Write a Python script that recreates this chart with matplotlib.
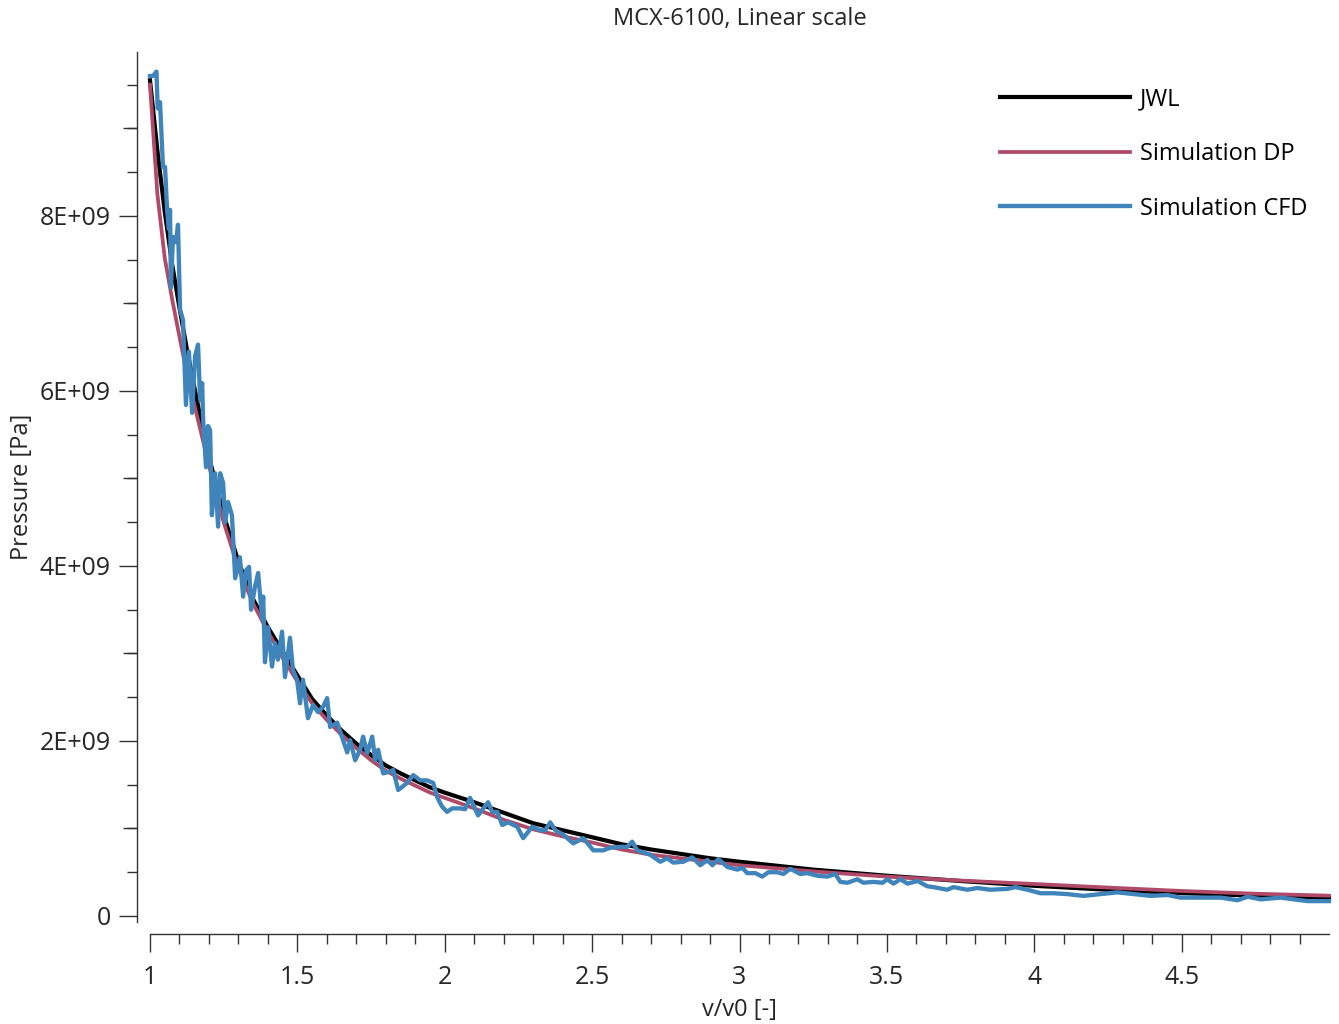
import numpy as np
import matplotlib.pyplot as plt
from matplotlib.ticker import FixedLocator, FuncFormatter

plt.rcParams['font.family'] = ['Open Sans', 'DejaVu Sans']

# JWL reference curve (v/v0, pressure in 1e9 Pa)
jwl_x = [1.00, 1.025, 1.05, 1.075, 1.10, 1.125, 1.15, 1.175, 1.20, 1.25, 1.30, 1.35,
         1.40, 1.45, 1.50, 1.55, 1.60, 1.65, 1.70, 1.75, 1.80, 1.85, 1.90, 1.95, 2.00,
         2.10, 2.20, 2.30, 2.40, 2.50, 2.60, 2.70, 2.80, 2.90, 3.00, 3.25, 3.50, 3.75,
         4.00, 4.25, 4.50, 4.75, 5.00]
jwl_p = [9.55, 8.75, 8.05, 7.45, 6.95, 6.48, 6.05, 5.63, 5.25, 4.58, 4.05, 3.62,
         3.30, 3.02, 2.75, 2.48, 2.29, 2.12, 1.97, 1.84, 1.72, 1.63, 1.55, 1.47, 1.41,
         1.30, 1.18, 1.06, 0.98, 0.90, 0.82, 0.76, 0.71, 0.66, 0.62, 0.53, 0.46, 0.40,
         0.345, 0.30, 0.262, 0.232, 0.206]

# Simulation DP
dp_x = jwl_x
dp_p = [9.50, 8.25, 7.52, 7.05, 6.62, 6.20, 5.85, 5.50, 5.15, 4.50, 3.97, 3.57,
        3.25, 2.95, 2.68, 2.43, 2.24, 2.07, 1.92, 1.78, 1.66, 1.57, 1.49, 1.41, 1.35,
        1.23, 1.10, 0.99, 0.91, 0.84, 0.76, 0.70, 0.66, 0.62, 0.58, 0.51, 0.45, 0.405,
        0.366, 0.325, 0.286, 0.255, 0.232]

# Simulation CFD (noisy)
cfd_x = [1.000, 1.010, 1.022, 1.026, 1.034, 1.044, 1.051, 1.058, 1.064, 1.068, 1.071,
         1.078, 1.088, 1.095, 1.102, 1.112, 1.122, 1.132, 1.143, 1.153, 1.163, 1.170,
         1.177, 1.180, 1.190, 1.197, 1.204, 1.210, 1.221, 1.231, 1.238, 1.248, 1.255,
         1.265, 1.278, 1.289, 1.305, 1.316, 1.326, 1.336, 1.343, 1.356, 1.367, 1.380,
         1.384, 1.390, 1.401, 1.414, 1.424, 1.434, 1.448, 1.458, 1.475, 1.485, 1.499,
         1.509, 1.519, 1.536, 1.553, 1.570, 1.587, 1.601, 1.611, 1.635, 1.669, 1.679,
         1.696, 1.713, 1.723, 1.737, 1.754, 1.764, 1.774, 1.791, 1.815, 1.825, 1.842,
         1.872, 1.893, 1.917, 1.940, 1.961, 1.974, 1.991, 2.008, 2.025, 2.052, 2.069,
         2.086, 2.113, 2.147, 2.161, 2.178, 2.195, 2.215, 2.246, 2.266, 2.297, 2.324,
         2.341, 2.358, 2.375, 2.402, 2.436, 2.470, 2.504, 2.538, 2.561, 2.595, 2.619,
         2.636, 2.653, 2.697, 2.731, 2.755, 2.775, 2.809, 2.840, 2.867, 2.891, 2.908,
         2.928, 2.959, 2.993, 3.010, 3.026, 3.054, 3.077, 3.098, 3.128, 3.149, 3.172,
         3.206, 3.230, 3.264, 3.298, 3.325, 3.342, 3.366, 3.400, 3.420, 3.454, 3.485,
         3.502, 3.522, 3.546, 3.570, 3.604, 3.637, 3.658, 3.705, 3.726, 3.773, 3.807,
         3.851, 3.909, 3.936, 3.977, 4.021, 4.065, 4.113, 4.167, 4.225, 4.282, 4.337,
         4.395, 4.452, 4.496, 4.564, 4.632, 4.690, 4.724, 4.768, 4.836, 4.880, 4.927,
         5.000]
cfd_p = [9.60, 9.60, 9.65, 9.23, 9.30, 8.56, 8.56, 8.07, 7.85, 8.07, 7.18,
         7.76, 7.70, 7.90, 6.93, 6.81, 5.84, 6.45, 5.75, 6.40, 6.53, 5.90,
         6.09, 5.69, 5.13, 5.60, 5.55, 4.58, 5.06, 4.45, 5.06, 4.95, 4.50,
         4.73, 4.58, 3.86, 4.10, 3.65, 3.95, 3.99, 3.50, 3.76, 3.92, 3.41,
         3.65, 2.90, 3.30, 2.85, 3.12, 2.93, 3.25, 2.73, 3.18, 2.81, 2.70,
         2.43, 2.70, 2.26, 2.41, 2.33, 2.39, 2.49, 2.16, 2.21, 1.87, 2.01,
         1.78, 1.90, 2.05, 1.86, 2.05, 1.78, 1.90, 1.63, 1.65, 1.67, 1.44,
         1.52, 1.61, 1.55, 1.55, 1.52, 1.36, 1.25, 1.19, 1.23, 1.23, 1.22,
         1.35, 1.15, 1.30, 1.19, 1.19, 1.04, 1.07, 1.02, 0.89, 1.02, 0.98,
         0.98, 1.07, 0.98, 0.93, 0.83, 0.89, 0.75, 0.75, 0.78, 0.79, 0.79,
         0.85, 0.75, 0.70, 0.62, 0.66, 0.61, 0.62, 0.67, 0.58, 0.64, 0.58,
         0.65, 0.56, 0.53, 0.55, 0.49, 0.49, 0.45, 0.50, 0.50, 0.48, 0.54,
         0.48, 0.49, 0.46, 0.45, 0.48, 0.39, 0.38, 0.42, 0.38, 0.39, 0.38,
         0.42, 0.37, 0.42, 0.37, 0.40, 0.34, 0.33, 0.30, 0.33, 0.30, 0.32,
         0.30, 0.31, 0.33, 0.30, 0.26, 0.26, 0.25, 0.23, 0.25, 0.27, 0.25,
         0.23, 0.24, 0.21, 0.21, 0.21, 0.18, 0.22, 0.19, 0.21, 0.19, 0.17,
         0.17]

x_major = [1, 1.5, 2, 2.5, 3, 3.5, 4, 4.5]
y_major = [0, 2e9, 4e9, 6e9, 8e9]

scale = 1e9
ink = '#333333'
txt = '#262626'

fig = plt.figure(figsize=(13.39, 10.24), dpi=100)
ax = fig.add_axes([150 / 1339, 1 - 922 / 1024, 1179 / 1339, 870 / 1024])

ax.plot(jwl_x, np.array(jwl_p) * scale, color='black', lw=3.0, label='JWL', clip_on=False)
ax.plot(dp_x, np.array(dp_p) * scale, color='#B04A68', lw=2.7, label='Simulation DP', clip_on=False)
ax.plot(cfd_x, np.array(cfd_p) * scale, color='#3F85BB', lw=3.1, label='Simulation CFD', clip_on=False)

ax.set_xlim(1.0, 5.0)
ax.set_ylim(-0.0686e9, 9.874e9)

for s in ['top', 'right']:
    ax.spines[s].set_visible(False)
ax.spines['left'].set_position(('outward', 9.4))
ax.spines['bottom'].set_position(('outward', 8.6))
for s in ['left', 'bottom']:
    ax.spines[s].set_color(ink)
    ax.spines[s].set_linewidth(1.0)

ax.xaxis.set_major_locator(FixedLocator(x_major))
ax.xaxis.set_minor_locator(FixedLocator(np.arange(1.0, 4.95, 0.1)))
ax.xaxis.set_major_formatter(FuncFormatter(lambda v, p: f'{v:g}'))
ax.yaxis.set_major_locator(FixedLocator(y_major))
ax.yaxis.set_minor_locator(FixedLocator(np.arange(0, 9.9e9, 0.5e9)))
ax.yaxis.set_major_formatter(FuncFormatter(lambda v, p: '0' if v == 0 else f'{v:.0E}'))

ax.tick_params(which='major', direction='out', length=13, width=1.0, color=ink,
               labelsize=18, labelcolor=txt)
ax.tick_params(axis='x', which='major', pad=9)
ax.tick_params(axis='y', which='major', pad=6)
ax.tick_params(which='minor', direction='out', length=7.2, width=1.0, color=ink)

# medium ticks at odd 1e9 on the pressure axis
sec = ax.secondary_yaxis('left')
sec.spines['left'].set_position(('outward', 9.4))
sec.spines['left'].set_visible(False)
sec.yaxis.set_major_locator(FixedLocator([1e9, 3e9, 5e9, 7e9, 9e9]))
sec.yaxis.set_minor_locator(FixedLocator([]))
sec.tick_params(which='major', direction='out', length=10, width=1.0, color=ink, labelleft=False)

ax.set_xlabel('v/v0 [-]', fontsize=17, color=txt, labelpad=6)
ax.set_ylabel('Pressure [Pa]', fontsize=17, color=txt, labelpad=4)

fig.text(740 / 1339, 1 - 19 / 1024, 'MCX-6100, Linear scale', fontsize=17,
         color=txt, ha='center', va='center')

ax.legend(loc='upper right', bbox_to_anchor=(1329 / 1339, 1 - 66 / 1024),
          bbox_transform=fig.transFigure, frameon=False, fontsize=17,
          handlelength=5.5, handletextpad=0.42, labelspacing=1.3)

fig.savefig('out.png', dpi=100)
